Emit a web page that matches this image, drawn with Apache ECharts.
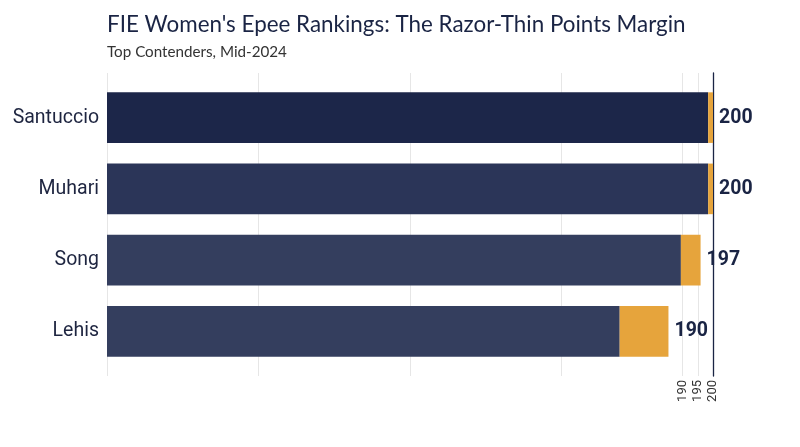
<!DOCTYPE html>
<html>
<head>
<meta charset="utf-8">
<script src="https://cdn.jsdelivr.net/npm/echarts@6/dist/echarts.min.js"></script>
<style>
html,body{margin:0;padding:0;background:#fff;}
#chart{width:800px;height:447px;}
</style>
</head>
<body>
<div id="chart"></div>
<script>
const categories = ['Santuccio', 'Muhari', 'Song', 'Lehis'];
const baseValues = [198.4, 198.4, 189.4, 169.2];
const marginValues = [1.6, 1.6, 6.5, 16.1];
const pointLabels = [200, 200, 197, 190];
const barColors = ['#1c2649', '#2b3558', '#343e5e', '#343e5e'];
const tickLabels = [190, 195, 200];
const gridValues = [0, 50, 100, 150, 190, 195, 200];

const chart = echarts.init(document.getElementById('chart'));
const navy = '#1a2444';
chart.setOption({
  backgroundColor: '#fff',
  animation: false,
  title: {
    text: "FIE Women's Epee Rankings: The Razor-Thin Points Margin",
    subtext: 'Top Contenders, Mid-2024',
    left: 102, top: 9,
    itemGap: 9,
    textStyle: {fontFamily: 'Lato', fontSize: 22.4, fontWeight: 'normal', color: '#1a2444'},
    subtextStyle: {fontFamily: 'Lato', fontSize: 15.2, color: '#333'}
  },
  grid: [
    {left: 107, right: 87, top: 82, bottom: 80},
    {left: 107, right: 87, top: 73, bottom: 71}
  ],
  xAxis: [
    {gridIndex: 0, type: 'value', min: 0, max: 200, show: false},
    {gridIndex: 1, type: 'value', min: 0, max: 200,
      axisLine: {show: false},
      axisTick: {show: false, customValues: gridValues},
      splitLine: {show: true, lineStyle: {color: '#e6e6e6', width: 1}},
      axisLabel: {customValues: tickLabels, rotate: 90, margin: 4,
        fontFamily: 'Roboto', fontSize: 13, color: '#333'}
    }
  ],
  yAxis: [
    {gridIndex: 0, type: 'category', data: categories, inverse: true,
      axisLine: {show: false}, axisTick: {show: false},
      axisLabel: {fontFamily: 'Roboto', fontSize: 19.5, color: '#1e2540', margin: 8}
    },
    {gridIndex: 1, type: 'value', position: 'right', min: 0, max: 1,
      axisLine: {show: true, onZero: false, lineStyle: {color: navy, width: 1.3}},
      axisTick: {show: false}, axisLabel: {show: false}, splitLine: {show: false}
    }
  ],
  series: [
    {type: 'bar', xAxisIndex: 0, yAxisIndex: 0, stack: 'total', barCategoryGap: '29%',
      data: baseValues.map((v, i) => ({value: v, itemStyle: {color: barColors[i]}}))
    },
    {type: 'bar', xAxisIndex: 0, yAxisIndex: 0, stack: 'total', barCategoryGap: '29%',
      itemStyle: {color: '#e6a43c'},
      data: marginValues,
      label: {show: true, position: 'right', distance: 6,
        formatter: p => String(pointLabels[p.dataIndex]),
        fontFamily: 'Roboto', fontWeight: 'bold', fontSize: 19.5, color: navy}
    }
  ]
});
</script>
</body>
</html>
